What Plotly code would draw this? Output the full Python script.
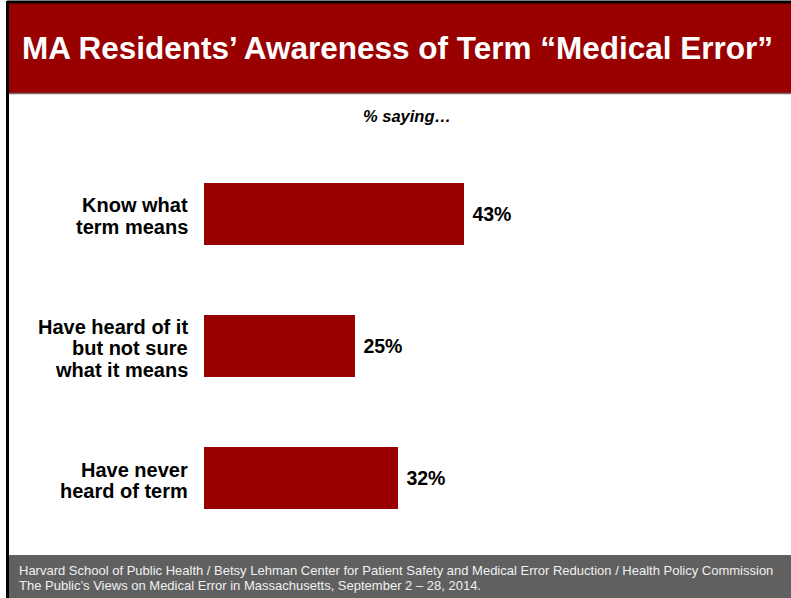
import plotly.graph_objects as go

# survey answers, top to bottom
categories = ["Know what<br>term means",
              "Have heard of it<br>but not sure<br>what it means",
              "Have never<br>heard of term"]
values = [43, 25, 32]
value_labels = ["43%", "25%", "32%"]

title_text = "MA Residents’ Awareness of Term “Medical Error”"
subtitle_text = "% saying…"
footer_lines = [
    "Harvard School of Public Health / Betsy Lehman Center for Patient Safety and Medical Error Reduction / Health Policy Commission",
    "The Public’s Views on Medical Error in Massachusetts, September 2 – 28, 2014.",
]

RED = "#990000"
W, H = 791, 598
FONT = "Liberation Sans, Arial"
LABEL_GAP = 21.5  # px between lines of a category label

fig = go.Figure()

fig.add_trace(go.Bar(
    x=values,
    y=categories,
    orientation="h",
    marker=dict(color=RED, line=dict(width=0)),
    width=0.47,
    text=value_labels,
    texttemplate=" <b>%{text}</b>",
    textposition="outside",
    textfont=dict(family=FONT, size=19.5, color="black"),
    cliponaxis=False,
    hoverinfo="skip",
))

shapes = [
    # title bar
    dict(type="rect", xref="paper", yref="paper", x0=7 / W, x1=1, y0=1 - 93 / H, y1=1 - 2 / H,
         fillcolor=RED, line=dict(width=0), layer="below"),
    dict(type="line", xref="paper", yref="paper", x0=7 / W, x1=1, y0=1 - 93.5 / H, y1=1 - 93.5 / H,
         line=dict(color="#7a6a6a", width=1.5)),
    # top border
    dict(type="line", xref="paper", yref="paper", x0=7 / W, x1=1, y0=1 - 2 / H, y1=1 - 2 / H,
         line=dict(color="black", width=3)),
    # footer band
    dict(type="rect", xref="paper", yref="paper", x0=8 / W, x1=1, y0=0, y1=1 - 555 / H,
         fillcolor="#606060", line=dict(width=0), layer="below"),
    # left border
    dict(type="line", xref="paper", yref="paper", x0=7.5 / W, x1=7.5 / W, y0=0, y1=1 - 1 / H,
         line=dict(color="black", width=3)),
]

annotations = [
    dict(text="<b>" + title_text + "</b>", xref="paper", yref="paper",
         x=398 / W, y=1 - 48 / H, xanchor="center", yanchor="middle", showarrow=False,
         font=dict(family=FONT, size=31.5, color="white")),
    dict(text="<b><i>" + subtitle_text + "</i></b>", xref="paper", yref="paper",
         x=407 / W, y=1 - 116 / H, xanchor="center", yanchor="middle", showarrow=False,
         font=dict(family=FONT, size=16.5, color="black")),
]
for i, line in enumerate(footer_lines):
    annotations.append(dict(text=line, xref="paper", yref="paper",
                            x=17 / W, y=1 - (570 + 15 * i) / H, xanchor="left", yanchor="middle",
                            align="left", showarrow=False,
                            font=dict(family=FONT, size=13, color="#f0f0f0")))

# category labels, one annotation per line for tighter leading
for cat in categories:
    parts = cat.split("<br>")
    n = len(parts)
    for j, part in enumerate(parts):
        annotations.append(dict(text="<b>" + part + "</b>", xref="paper", yref="y",
                                x=190 / W, y=cat, xanchor="right", yanchor="middle",
                                yshift=((n - 1) / 2 - j) * LABEL_GAP - 2, showarrow=False,
                                font=dict(family=FONT, size=20, color="black")))

fig.update_layout(
    width=W, height=H,
    margin=dict(l=0, r=0, t=0, b=0),
    paper_bgcolor="white",
    plot_bgcolor="white",
    showlegend=False,
    bargap=0,
    shapes=shapes,
    annotations=annotations,
    xaxis=dict(range=[0, 90], domain=[204 / W, 748.5 / W], visible=False, fixedrange=True),
    yaxis=dict(
        domain=[1 - 544.5 / H, 1 - 148 / H],
        range=[2.5, -0.5],
        showgrid=False, zeroline=False, showline=False, ticks="",
        showticklabels=False,
        fixedrange=True,
    ),
)

# drop the default page margin so the figure fills the window
fig.write_html("out.html", config={"displayModeBar": False},
               post_script="document.body.style.margin='0';")
